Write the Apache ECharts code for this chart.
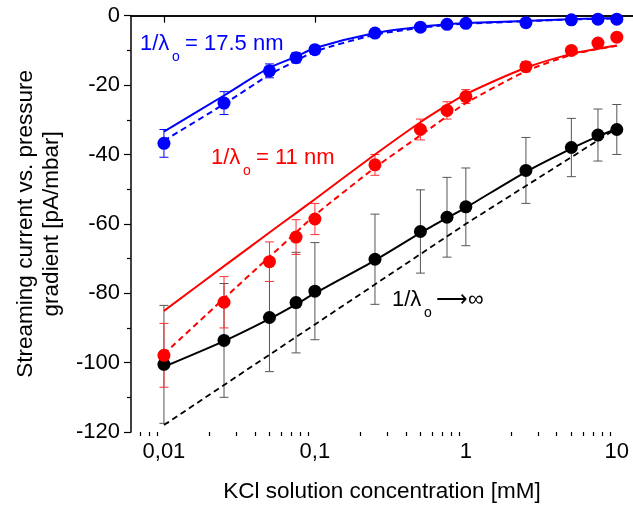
<!DOCTYPE html>
<html><head><meta charset="utf-8">
<script src="https://cdn.jsdelivr.net/npm/echarts@6/dist/echarts.min.js"></script>
<style>html,body{margin:0;padding:0;background:#fff}#c{width:633px;height:508px}</style>
</head><body><div id="c"></div>
<script>
const conc = [0.01,0.025,0.05,0.075,0.1,0.25,0.5,0.75,1,2.5,5,7.5,10];
const blueVal = [-36.8,-25.2,-15.9,-12.1,-9.8,-5.0,-3.3,-2.5,-2.2,-2.0,-1.2,-1.0,-1.0];
const blueErr = [4,3.3,2,1.5,1.2,1,1,0.8,0.8,0.8,0.8,0.8,0.8];
const redVal = [-97.9,-82.6,-70.9,-63.8,-58.6,-43.0,-32.8,-27.3,-23.3,-14.7,-10.0,-7.9,-6.2];
const redErr = [9.2,7.4,5.7,5,4.5,3,3,2.5,2,1.5,1,1,1];
const blackVal = [-100.5,-93.6,-87.0,-82.7,-79.4,-70.2,-62.2,-58.1,-55.1,-44.6,-38.0,-34.4,-32.8];
const blackErr = [17,16.4,15.6,14.5,14,13,12,11.5,11.2,9.5,8.4,7.5,7.2];
const blueSolid = [-33.4,-23,-15,-11.8,-9.3,-5,-3.2,-2.5,-2.1,-1.5,-1.0,-0.8,-0.7];
const blueDashed = [-36,-25.5,-17,-13,-10.3,-5.5,-3.5,-2.7,-2.3,-1.6,-1.1,-0.9,-0.8];
const redSolid = [-85.1,-72.2,-62.5,-56.9,-52.9,-40,-30.7,-25.8,-22.6,-15,-11,-9.5,-8.6];
const redDashed = [-97.5,-81.5,-69.5,-62.5,-57.5,-43.8,-34.5,-29,-25.2,-16,-11.3,-9.6,-8.7];
const blackSolid = [-101.2,-93.8,-87.4,-83.2,-80,-70.5,-62.6,-58.3,-55.3,-45,-38.3,-34.8,-32.6];
const limitConc = [0.01,0.1,1,10];
const blackDashed = [-118,-89,-60,-32.5];
const xTickValues = [0.01,0.1,1,10];
const xTickLabels = ['0,01','0,1','1','10'];
const xMinorTicks = [0.007,0.008,0.009,0.02,0.03,0.04,0.05,0.06,0.07,0.08,0.09,0.2,0.3,0.4,0.5,0.6,0.7,0.8,0.9,2,3,4,5,6,7,8,9];

const FONT = "'Liberation Sans', Arial, sans-serif";
const X_MIN = 0.00605, X_MAX = 12.8;

function pairs(xs, ys){ return xs.map((x,i)=>[x, ys[i]]); }
function errSeries(vals, errs, color){
  return {type:'custom', silent:true, z:2,
    data: conc.map((c,i)=>[c, vals[i]-errs[i], vals[i]+errs[i]]),
    encode:{x:0, y:[1,2]},
    renderItem:(params, api)=>{
      const x = api.value(0);
      const lo = api.coord([x, api.value(1)]);
      const hi = api.coord([x, api.value(2)]);
      const w = 4.5;
      const st = {stroke:color, lineWidth:1};
      return {type:'group', children:[
        {type:'line', shape:{x1:lo[0],y1:lo[1],x2:hi[0],y2:hi[1]}, style:st},
        {type:'line', shape:{x1:lo[0]-w,y1:lo[1],x2:lo[0]+w,y2:lo[1]}, style:st},
        {type:'line', shape:{x1:hi[0]-w,y1:hi[1],x2:hi[0]+w,y2:hi[1]}, style:st}
      ]};
    }};
}
function lineSeries(xs, ys, color, dashed, width, smooth){
  return {type:'line', data:pairs(xs, ys), showSymbol:false, symbol:'none', silent:true, z:3,
    smooth: smooth || false,
    lineStyle:{color:color, width:width, type: dashed ? [6,4] : 'solid'}};
}
function scatterSeries(vals, color){
  return {type:'scatter', data:pairs(conc, vals), symbol:'circle', symbolSize:13, z:5,
    itemStyle:{color:color, opacity:1}};
}
function txt(x, y, s, color, size){
  return {type:'text', x:x, y:y, style:{text:s, fill:color, font: size+'px '+FONT, textVerticalAlign:'middle'}};
}

const chart = echarts.init(document.getElementById('c'), null, {renderer:'canvas'});
chart.setOption({
  animation:false,
  backgroundColor:'#fff',
  grid:{left:131, right:0, top:15.7, bottom:70.5},
  xAxis:[
    {type:'log', logBase:10, min:X_MIN, max:X_MAX, position:'bottom',
     axisLine:{show:true, lineStyle:{color:'#000', width:1.5}},
     axisTick:{show:true, customValues:xTickValues, length:7, lineStyle:{color:'#000', width:1.2}},
     axisLabel:{show:true, customValues:xTickValues, margin:9, color:'#000', fontSize:22, fontFamily:FONT,
       formatter:(v)=>{const i = xTickValues.findIndex(t=>Math.abs(t-v)/t<1e-6); return i>=0 ? xTickLabels[i] : '';}},
     splitLine:{show:false}, minorTick:{show:false},
     name:'KCl solution concentration [mM]', nameLocation:'middle', nameGap:48,
     nameTextStyle:{color:'#000', fontSize:22.5, fontFamily:FONT}},
    {type:'log', logBase:10, min:X_MIN, max:X_MAX, position:'bottom',
     axisLine:{show:false},
     axisTick:{show:true, customValues:xMinorTicks, length:4, lineStyle:{color:'#000', width:1.2}},
     axisLabel:{show:false}, splitLine:{show:false}},
    {type:'log', logBase:10, min:X_MIN, max:X_MAX, position:'top',
     axisLine:{show:true, lineStyle:{color:'#000', width:1.5}},
     axisTick:{show:false}, axisLabel:{show:false}, splitLine:{show:false}}
  ],
  yAxis:[{type:'value', min:-120, max:0, interval:20,
    axisLine:{show:true, onZero:false, lineStyle:{color:'#000', width:1.5}},
    axisTick:{show:true, length:7, lineStyle:{color:'#000', width:1.2}},
    minorTick:{show:true, splitNumber:2, length:4, lineStyle:{color:'#000', width:1.2}},
    axisLabel:{color:'#000', fontSize:22, fontFamily:FONT, margin:11},
    splitLine:{show:false}, minorSplitLine:{show:false},
    name:'Streaming current vs. pressure\ngradient [pA/mbar]', nameLocation:'middle', nameRotate:90, nameGap:20,
    nameTextStyle:{color:'#000', fontSize:22.5, fontFamily:FONT, lineHeight:26}}],
  series:[
    errSeries(blackVal, blackErr, '#555'),
    errSeries(redVal, redErr, '#ff3030'),
    errSeries(blueVal, blueErr, '#0000ff'),
    lineSeries(limitConc, blackDashed, '#000', true, 1.8),
    lineSeries(conc, blackSolid, '#000', false, 2, 0.2),
    lineSeries(conc, redDashed, '#ff0000', true, 2, 0.25),
    lineSeries(conc, redSolid, '#ff0000', false, 2, 0.25),
    lineSeries(conc, blueDashed, '#0000ff', true, 2, 0.25),
    lineSeries(conc, blueSolid, '#0000ff', false, 2, 0.25),
    scatterSeries(blackVal, '#000'),
    scatterSeries(redVal, '#ff0000'),
    scatterSeries(blueVal, '#0000ff')
  ],
  graphic:[
    txt(140, 44, '1/λ', '#0000ff', 22),
    txt(172, 57, 'o', '#0000ff', 14),
    txt(185, 44, '= 17.5 nm', '#0000ff', 22),
    txt(211, 158, '1/λ', '#ff0000', 22),
    txt(243, 171, 'o', '#ff0000', 14),
    txt(256, 158, '= 11 nm', '#ff0000', 22),
    txt(392, 300, '1/λ', '#000', 22),
    txt(424, 313, 'o', '#000', 14),
    txt(436, 300, '⟶∞', '#000', 22)
  ]
});
</script></body></html>
